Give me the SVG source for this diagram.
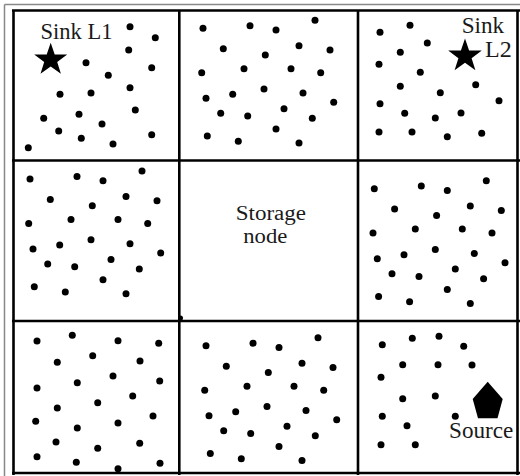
<svg xmlns="http://www.w3.org/2000/svg" xmlns:xlink="http://www.w3.org/1999/xlink" width="520" height="476" viewBox="0 0 520 476">
<style>
.d{fill:#000}
.g{stroke:#000;stroke-width:2.6;fill:none}
.t{font-family:"Liberation Serif","Times New Roman",serif;font-size:22.5px;fill:#1a1a1a}
.s{font-size:20px}
</style>
<defs>
<g id="pat">
<circle class="d" cx="203" cy="28.3" r="3.5"/><circle class="d" cx="250" cy="25.7" r="3.5"/><circle class="d" cx="276" cy="30" r="3.5"/><circle class="d" cx="315" cy="20.3" r="3.5"/>
<circle class="d" cx="223.3" cy="48.7" r="3.5"/><circle class="d" cx="265.3" cy="55" r="3.5"/><circle class="d" cx="299" cy="45.7" r="3.5"/><circle class="d" cx="330" cy="50" r="3.5"/>
<circle class="d" cx="201.7" cy="72.7" r="3.5"/><circle class="d" cx="244" cy="68.7" r="3.5"/><circle class="d" cx="291" cy="68.7" r="3.5"/><circle class="d" cx="320.7" cy="72.7" r="3.5"/>
<circle class="d" cx="206" cy="98.3" r="3.5"/><circle class="d" cx="232.7" cy="94.3" r="3.5"/><circle class="d" cx="264" cy="89" r="3.5"/><circle class="d" cx="303" cy="93" r="3.5"/><circle class="d" cx="333.7" cy="102.3" r="3.5"/>
<circle class="d" cx="220.7" cy="113.3" r="3.5"/><circle class="d" cx="247.7" cy="116" r="3.5"/><circle class="d" cx="284" cy="108.7" r="3.5"/><circle class="d" cx="312.3" cy="118.3" r="3.5"/>
<circle class="d" cx="207.3" cy="136" r="3.5"/><circle class="d" cx="238.3" cy="141.3" r="3.5"/><circle class="d" cx="276" cy="129" r="3.5"/><circle class="d" cx="299" cy="143" r="3.5"/>
</g>
</defs>
<rect width="520" height="476" fill="#fff"/>
<g id="frame">
<line x1="4.5" y1="4.5" x2="520" y2="4.5" stroke="#888" stroke-width="1.5"/>
<line x1="4.5" y1="4.5" x2="4.5" y2="476" stroke="#888" stroke-width="1.5"/>
<line class="g" x1="12" y1="10.5" x2="520" y2="10.5"/>
<line class="g" x1="13.5" y1="10" x2="13.5" y2="475" stroke-width="3.2"/>
<line class="g" x1="517.5" y1="10" x2="517.5" y2="475"/>
<line class="g" x1="12" y1="473" x2="520" y2="473"/>
<line class="g" x1="12" y1="160.5" x2="520" y2="160.5"/>
<line class="g" x1="12" y1="321" x2="520" y2="321"/>
<line class="g" x1="179.3" y1="10" x2="179.3" y2="475"/>
<line class="g" x1="358" y1="10" x2="358" y2="475"/>
<circle class="d" cx="180.5" cy="318" r="2.5"/>
</g>
<g id="cell-1-1">
<circle class="d" cx="130" cy="26.7" r="3.5"/><circle class="d" cx="155.3" cy="37.7" r="3.5"/><circle class="d" cx="128.7" cy="50" r="3.5"/><circle class="d" cx="151.7" cy="67.7" r="3.5"/>
<circle class="d" cx="86" cy="62.7" r="3.5"/><circle class="d" cx="108.3" cy="75.3" r="3.5"/><circle class="d" cx="130" cy="87.7" r="3.5"/><circle class="d" cx="60" cy="94.3" r="3.5"/>
<circle class="d" cx="91" cy="93" r="3.5"/><circle class="d" cx="135.3" cy="110" r="3.5"/><circle class="d" cx="43.7" cy="118.3" r="3.5"/><circle class="d" cx="79" cy="114.3" r="3.5"/>
<circle class="d" cx="102" cy="124" r="3.5"/><circle class="d" cx="58.7" cy="131" r="3.5"/><circle class="d" cx="81.3" cy="138.3" r="3.5"/><circle class="d" cx="113" cy="144" r="3.5"/>
<circle class="d" cx="151.7" cy="134.7" r="3.5"/><circle class="d" cx="28.3" cy="147.7" r="3.5"/>
</g>
<g id="sink-l1">
<text class="t" x="40.5" y="39.3" textLength="72" lengthAdjust="spacingAndGlyphs">Sink L1</text>
<polygon fill="#000" points="50.7,42.7 54.7,54.4 67.2,54.4 57.2,61.9 60.9,73.8 50.7,66.5 40.5,73.8 44.2,61.9 34.2,54.4 46.7,54.4"/>
</g>
<g id="cell-1-2"><use xlink:href="#pat" href="#pat"/></g>
<g id="cell-1-3">
<circle class="d" cx="380" cy="32.3" r="3.5"/><circle class="d" cx="410" cy="25.3" r="3.5"/><circle class="d" cx="427.3" cy="43" r="3.5"/><circle class="d" cx="400.3" cy="52.3" r="3.5"/>
<circle class="d" cx="379" cy="64.3" r="3.5"/><circle class="d" cx="420.3" cy="72.3" r="3.5"/><circle class="d" cx="400.3" cy="86.3" r="3.5"/><circle class="d" cx="440.3" cy="92.7" r="3.5"/>
<circle class="d" cx="475.7" cy="84.7" r="3.5"/><circle class="d" cx="499" cy="100.7" r="3.5"/><circle class="d" cx="380" cy="103.7" r="3.5"/><circle class="d" cx="404.7" cy="113.3" r="3.5"/>
<circle class="d" cx="435.3" cy="118" r="3.5"/><circle class="d" cx="461" cy="113" r="3.5"/><circle class="d" cx="379" cy="132" r="3.5"/><circle class="d" cx="412" cy="132" r="3.5"/>
<circle class="d" cx="447.3" cy="136.7" r="3.5"/><circle class="d" cx="481.7" cy="133.3" r="3.5"/>
</g>
<g id="sink-l2">
<text class="t" x="461.7" y="33.3" textLength="42.5" lengthAdjust="spacingAndGlyphs">Sink</text>
<text class="t" x="485" y="57.3" textLength="26.7" lengthAdjust="spacingAndGlyphs">L2</text>
<polygon fill="#000" points="465,38.5 469.1,50.6 481.8,50.6 471.6,58.2 475.4,70.3 465,62.8 454.6,70.3 458.4,58.2 448.2,50.6 460.9,50.6"/>
</g>
<g id="cell-2-1"><use xlink:href="#pat" href="#pat" transform="translate(-173,150.7)"/></g>
<g id="storage-node">
<text class="t s" x="235.7" y="220" textLength="70.3" lengthAdjust="spacingAndGlyphs">Storage</text>
<text class="t s" x="243.3" y="242.5" textLength="44" lengthAdjust="spacingAndGlyphs">node</text>
</g>
<g id="cell-2-3"><use xlink:href="#pat" href="#pat" transform="translate(171.3,160.4)"/></g>
<g id="cell-3-1">
<circle class="d" cx="37" cy="341" r="3.5"/><circle class="d" cx="72.3" cy="335.3" r="3.5"/><circle class="d" cx="118" cy="340.7" r="3.5"/><circle class="d" cx="158.7" cy="343.3" r="3.5"/>
<circle class="d" cx="57.3" cy="362.3" r="3.5"/><circle class="d" cx="92.7" cy="355.7" r="3.5"/><circle class="d" cx="140" cy="361" r="3.5"/><circle class="d" cx="37" cy="388" r="3.5"/>
<circle class="d" cx="77.3" cy="382.7" r="3.5"/><circle class="d" cx="113" cy="376" r="3.5"/><circle class="d" cx="159.7" cy="381" r="3.5"/><circle class="d" cx="57.3" cy="408" r="3.5"/>
<circle class="d" cx="97.7" cy="402.7" r="3.5"/><circle class="d" cx="132.7" cy="396" r="3.5"/><circle class="d" cx="35.7" cy="421.3" r="3.5"/><circle class="d" cx="77.3" cy="428" r="3.5"/>
<circle class="d" cx="118" cy="423" r="3.5"/><circle class="d" cx="153" cy="416" r="3.5"/><circle class="d" cx="56" cy="442" r="3.5"/><circle class="d" cx="97.7" cy="448.3" r="3.5"/>
<circle class="d" cx="139.7" cy="443.3" r="3.5"/><circle class="d" cx="37" cy="456.7" r="3.5"/><circle class="d" cx="76.3" cy="462.3" r="3.5"/><circle class="d" cx="118" cy="468.7" r="3.5"/>
<circle class="d" cx="160" cy="463.3" r="3.5"/>
</g>
<g id="cell-3-2"><use xlink:href="#pat" href="#pat" transform="translate(3,317.5)"/></g>
<g id="cell-3-3">
<circle class="d" cx="382.3" cy="344.7" r="3.5"/><circle class="d" cx="412.3" cy="338.3" r="3.5"/><circle class="d" cx="439" cy="336.3" r="3.5"/><circle class="d" cx="463.7" cy="346.3" r="3.5"/>
<circle class="d" cx="402.7" cy="364.7" r="3.5"/><circle class="d" cx="438" cy="364.7" r="3.5"/><circle class="d" cx="472" cy="365" r="3.5"/><circle class="d" cx="381" cy="377.3" r="3.5"/>
<circle class="d" cx="402.7" cy="398.7" r="3.5"/><circle class="d" cx="435.3" cy="396" r="3.5"/><circle class="d" cx="382.3" cy="416.3" r="3.5"/><circle class="d" cx="407" cy="425.7" r="3.5"/>
<circle class="d" cx="455.3" cy="416.3" r="3.5"/><circle class="d" cx="381" cy="444.7" r="3.5"/><circle class="d" cx="415.3" cy="444.7" r="3.5"/>
</g>
<g id="source">
<polygon fill="#000" points="487.7,381.7 502.7,399 497.5,418.3 478,418.3 472.7,399"/>
<text class="t" x="449" y="438.3" textLength="64.3" lengthAdjust="spacingAndGlyphs">Source</text>
</g>
</svg>
